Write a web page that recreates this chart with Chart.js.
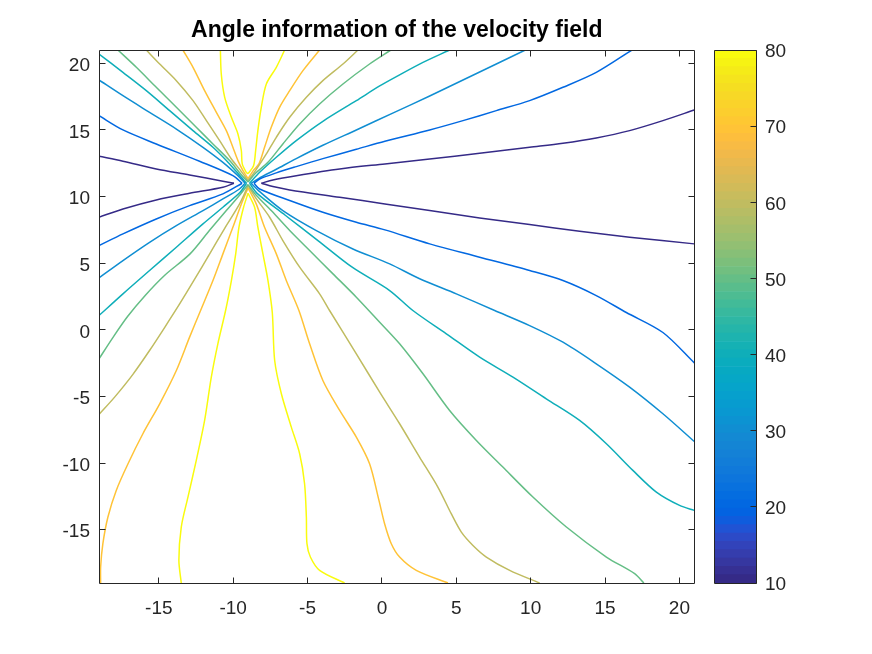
<!DOCTYPE html>
<html lang="en">
<head>
<meta charset="UTF-8">
<title>Angle information of the velocity field</title>
<script src="https://cdn.jsdelivr.net/npm/chart.js@4"></script>
<style>
  body { margin: 0; background: #fff; }
  .wrap { position: relative; width: 872px; height: 654px; }
  canvas { position: absolute; top: 0; }
  #field { left: 0; }
  #cbar { left: 700px; }
</style>
</head>
<body>
<div class="wrap">
  <canvas id="field" width="760" height="654"></canvas>
  <canvas id="cbar" width="172" height="654"></canvas>
</div>
<script>
// ---- data ----
const levels = [10, 20, 30, 40, 50, 60, 70, 80];
const xTicks = [-15, -10, -5, 0, 5, 10, 15, 20];
const yTicks = [-15, -10, -5, 0, 5, 10, 15, 20];
const cbTicks = [10, 20, 30, 40, 50, 60, 70, 80];
const xLimits = [-19, 21];
const yLimits = [-19, 21];
const cLimits = [10, 80];

// contour branches per level (same order as levels), from the plot edge in to the centre
const branchUL = [
  [[-19.02,13.02],[-17.41,12.65],[-15.17,12.07],[-12.93,11.62],[-10.69,11.15],[-9.95,11.0]],
  [[-19.02,16.07],[-17.41,15.0],[-15.17,13.95],[-12.26,12.65],[-10.02,11.57],[-9.4,11.0]],
  [[-19.02,18.75],[-17.41,17.57],[-15.62,16.32],[-13.82,15.07],[-12.03,13.7],[-10.69,12.57],[-9.68,11.57],[-9.2,11.0]],
  [[-19.02,20.7],[-17.41,19.32],[-15.84,17.95],[-14.27,16.45],[-12.7,14.95],[-11.36,13.7],[-10.24,12.45],[-9.5,11.5],[-9.1,11.0]],
  [[-17.75,21],[-16.51,19.7],[-15.17,18.2],[-13.82,16.7],[-12.48,15.2],[-11.36,13.95],[-10.24,12.7],[-9.5,11.7],[-9.0,11.1]],
  [[-15.84,21],[-14.94,19.95],[-13.82,18.7],[-12.7,17.2],[-11.8,15.7],[-10.91,14.2],[-10.12,12.82],[-9.5,11.95],[-9.0,11.2]],
  [[-13.38,21],[-12.7,19.7],[-11.92,17.95],[-11.13,16.32],[-10.46,14.95],[-10.02,13.7],[-9.68,12.7],[-9.34,11.95],[-9.0,11.35]],
  [[-10.86,21],[-10.8,19.2],[-10.57,17.45],[-10.12,15.95],[-9.68,14.7],[-9.45,13.45],[-9.39,12.45],[-9.12,11.82],[-9.0,11.72]]
];
const branchUR = [
  [[21,16.5],[18.89,15.7],[16.65,14.95],[14.41,14.4],[12.17,14.0],[9.93,13.7],[6.57,13.25],[3.21,12.82],[0.2,12.45],[-2.84,12.07],[-5.76,11.57],[-7.33,11.25],[-8.1,11.0]],
  [[16.81,21],[14.41,19.32],[12.17,18.2],[9.93,17.2],[7.69,16.45],[5.45,15.7],[3.21,15.0],[0.2,14.15],[-1.72,13.55],[-3.97,12.85],[-5.76,12.25],[-7.1,11.78],[-8.22,11.32],[-8.6,11.0]],
  [[9.64,21],[7.69,19.95],[5.45,18.75],[3.21,17.55],[0.8,16.3],[-1.72,15.0],[-3.97,13.85],[-5.76,12.85],[-7.1,12.05],[-8.3,11.35],[-8.8,11.0]],
  [[4.55,21],[2.76,20.07],[0.97,19.0],[-0.15,18.3],[-1.72,17.2],[-3.97,15.65],[-5.76,14.2],[-7.1,12.95],[-8.22,11.82],[-8.9,11.0]],
  [[0.6,21],[-0.83,19.95],[-2.62,18.45],[-4.19,16.95],[-5.53,15.45],[-6.66,13.95],[-7.66,12.57],[-8.5,11.75],[-9.0,11.1]],
  [[-1.61,21],[-2.62,19.95],[-3.97,18.7],[-5.08,17.45],[-6.2,15.95],[-7.1,14.45],[-7.77,13.2],[-8.5,11.95],[-9.0,11.2]],
  [[-4.19,21],[-5.31,19.45],[-6.2,17.95],[-6.88,16.7],[-7.44,15.2],[-7.89,13.7],[-8.27,12.45],[-8.65,11.95],[-9.0,11.35]],
  [[-6.54,21],[-7.1,19.7],[-7.77,18.45],[-8.11,16.7],[-8.34,14.95],[-8.49,13.45],[-8.63,12.32],[-9.0,11.72]]
];
const branchLL = [
  [[-19.02,8.45],[-17.41,9.07],[-15.17,9.75],[-12.93,10.25],[-10.69,10.7],[-9.95,11.0]],
  [[-19.02,6.32],[-17.41,7.2],[-15.17,8.32],[-12.93,9.32],[-10.69,10.2],[-9.4,11.0]],
  [[-19.02,3.9],[-17.41,5.2],[-15.62,6.57],[-13.82,7.82],[-12.03,8.95],[-10.69,9.82],[-9.6,10.55],[-9.2,11.0]],
  [[-19.02,1.07],[-17.41,2.7],[-15.62,4.45],[-13.82,6.2],[-12.03,7.95],[-10.69,9.2],[-9.55,10.3],[-9.1,11.0]],
  [[-19.02,-2.18],[-18.1,-0.6],[-17.1,1.0],[-15.9,2.6],[-14.6,4.1],[-12.9,5.7],[-11.6,7.45],[-10.46,8.95],[-9.5,10.2],[-9.0,10.9]],
  [[-19.02,-6.35],[-17.97,-5.05],[-16.74,-3.34],[-15.62,-1.55],[-14.61,0.17],[-13.6,1.94],[-12.59,3.8],[-11.58,5.7],[-10.58,7.6],[-9.57,9.45],[-9.0,10.8]],
  [[-18.91,-19],[-18.91,-17.8],[-18.76,-16.05],[-18.42,-14.05],[-17.86,-12.05],[-17.07,-10.05],[-16.07,-7.8],[-14.94,-5.55],[-13.82,-3.05],[-12.93,-0.55],[-12.19,1.45],[-11.36,3.7],[-10.69,5.7],[-10.02,7.7],[-9.45,9.45],[-9.0,10.65]],
  [[-13.49,-19],[-13.65,-17.3],[-13.49,-14.8],[-13.04,-12.55],[-12.48,-9.8],[-11.92,-6.8],[-11.47,-3.55],[-11.03,-1.05],[-10.51,1.45],[-10.12,3.7],[-9.83,5.7],[-9.61,7.7],[-9.3,9.2],[-9.0,10.25]]
];
const branchLR = [
  [[21,6.45],[16.65,6.95],[13.29,7.4],[9.93,7.9],[6.57,8.4],[3.21,8.95],[0.2,9.45],[-2.84,9.95],[-6.2,10.5],[-7.33,10.75],[-8.1,11.0]],
  [[21,-2.48],[18.89,-0.2],[16.43,1.3],[14.41,2.57],[12.17,3.7],[9.93,4.45],[6.57,5.45],[3.21,6.45],[0.2,7.5],[-1.72,8.07],[-3.97,8.82],[-6.2,9.7],[-8.22,10.57],[-8.6,11.0]],
  [[21,-8.38],[18.89,-6.3],[16.65,-4.3],[14.41,-2.55],[12.17,-0.93],[9.93,0.32],[7.58,1.45],[5.0,2.7],[2.5,3.85],[0.52,4.95],[-1.95,6.07],[-4.41,7.45],[-6.66,8.95],[-8.3,10.45],[-8.8,11.0]],
  [[21,-13.55],[20.01,-13.18],[18.45,-12.18],[16.87,-10.55],[15.09,-8.55],[13.29,-6.8],[11.05,-5.18],[8.81,-3.55],[6.57,-2.05],[4.33,-0.3],[2.08,1.45],[0.52,2.95],[-2.0,4.7],[-4.3,6.7],[-6.5,8.6],[-8.35,10.2],[-8.9,11.0]],
  [[17.61,-19],[16.99,-18.3],[15.09,-17.05],[12.4,-14.8],[10.15,-12.55],[8.13,-10.3],[6.35,-8.3],[4.55,-6.05],[2.76,-3.3],[1.19,-1.05],[-0.15,0.57],[-1.72,2.45],[-3.29,4.2],[-4.86,5.95],[-6.2,7.45],[-7.44,8.95],[-8.45,10.1],[-9.0,10.9]],
  [[10.6,-19],[8.59,-18.05],[7.02,-17.05],[6.12,-16.18],[5.34,-15.18],[4.66,-13.8],[3.76,-11.8],[2.53,-9.55],[1.19,-7.05],[-0.15,-4.68],[-1.72,-1.8],[-3.52,1.45],[-4.19,2.7],[-5.53,4.7],[-6.66,6.7],[-7.55,8.45],[-8.45,9.85],[-9.0,10.8]],
  [[4.44,-19],[2.31,-18.05],[1.19,-17.05],[0.63,-16.05],[0.18,-14.55],[-0.2,-12.8],[-0.83,-10.05],[-1.72,-8.05],[-2.84,-6.05],[-3.97,-3.8],[-4.86,-1.05],[-5.58,1.45],[-6.43,3.7],[-7.1,5.7],[-7.89,7.7],[-8.45,9.45],[-9.0,10.65]],
  [[-2.51,-19],[-4.19,-18.05],[-4.81,-17.05],[-5.04,-16.05],[-5.08,-14.05],[-5.2,-11.55],[-5.53,-9.3],[-6.09,-7.3],[-6.76,-4.8],[-7.21,-2.3],[-7.37,1.3],[-7.66,3.7],[-8.0,5.7],[-8.34,7.7],[-8.56,9.2],[-9.0,10.25]]
];

// ---- style ----
const parula = [
  [0.2081,0.1663,0.5292],[0.2116,0.1898,0.5777],[0.2123,0.2138,0.6270],[0.2081,0.2386,0.6771],
  [0.1959,0.2645,0.7279],[0.1707,0.2919,0.7792],[0.1253,0.3242,0.8303],[0.0591,0.3598,0.8683],
  [0.0117,0.3875,0.8820],[0.0060,0.4086,0.8828],[0.0165,0.4266,0.8786],[0.0329,0.4430,0.8720],
  [0.0498,0.4586,0.8641],[0.0629,0.4737,0.8554],[0.0723,0.4887,0.8467],[0.0779,0.5040,0.8384],
  [0.0793,0.5200,0.8312],[0.0749,0.5375,0.8263],[0.0641,0.5570,0.8240],[0.0488,0.5772,0.8228],
  [0.0343,0.5966,0.8199],[0.0265,0.6137,0.8135],[0.0239,0.6287,0.8038],[0.0231,0.6418,0.7913],
  [0.0228,0.6535,0.7768],[0.0267,0.6642,0.7607],[0.0384,0.6743,0.7436],[0.0590,0.6838,0.7254],
  [0.0843,0.6928,0.7062],[0.1133,0.7015,0.6859],[0.1453,0.7098,0.6646],[0.1801,0.7177,0.6424],
  [0.2178,0.7250,0.6193],[0.2586,0.7317,0.5954],[0.3022,0.7376,0.5712],[0.3482,0.7424,0.5473],
  [0.3953,0.7459,0.5244],[0.4420,0.7481,0.5033],[0.4871,0.7491,0.4840],[0.5300,0.7491,0.4661],
  [0.5709,0.7485,0.4494],[0.6099,0.7473,0.4337],[0.6473,0.7456,0.4188],[0.6834,0.7435,0.4044],
  [0.7184,0.7411,0.3905],[0.7525,0.7384,0.3768],[0.7858,0.7356,0.3633],[0.8185,0.7327,0.3498],
  [0.8507,0.7299,0.3360],[0.8824,0.7274,0.3217],[0.9139,0.7258,0.3063],[0.9450,0.7261,0.2886],
  [0.9739,0.7314,0.2666],[0.9938,0.7455,0.2403],[0.9990,0.7653,0.2164],[0.9955,0.7861,0.1967],
  [0.9880,0.8066,0.1794],[0.9789,0.8271,0.1633],[0.9697,0.8481,0.1475],[0.9626,0.8705,0.1309],
  [0.9589,0.8949,0.1132],[0.9598,0.9218,0.0948],[0.9661,0.9514,0.0755],[0.9763,0.9831,0.0538]
];
const axisColor = '#262626';
const tickFont = { size: 19 };

Chart.defaults.font.family = "'Liberation Sans', Arial, Helvetica, sans-serif";
Chart.defaults.color = axisColor;

function rgb(c) {
  return 'rgb(' + c.map(v => Math.round(v * 255)).join(',') + ')';
}
function levelColor(v) {
  const t = (v - cLimits[0]) / (cLimits[1] - cLimits[0]);
  const i = Math.min(parula.length - 1, Math.max(0, Math.floor(t * parula.length)));
  return rgb(parula[i]);
}

// box round the axes, ticks pointing inwards
const frame = {
  id: 'frame',
  afterDraw(chart, args, opts) {
    const { ctx, chartArea: a, scales } = chart;
    const snap = v => Math.round(v - 0.5) + 0.5;
    const L = snap(a.left), R = snap(a.right), T = snap(a.top), B = snap(a.bottom);
    ctx.save();
    ctx.strokeStyle = axisColor;
    ctx.lineWidth = 1;
    ctx.beginPath();
    ctx.rect(L, T, R - L, B - T);
    if (opts.xTicks) {
      scales.x.ticks.forEach(t => {
        const p = snap(scales.x.getPixelForValue(t.value));
        ctx.moveTo(p, B); ctx.lineTo(p, B - opts.len);
        ctx.moveTo(p, T); ctx.lineTo(p, T + opts.len);
      });
    }
    scales.y.ticks.forEach(t => {
      const p = snap(scales.y.getPixelForValue(t.value));
      if (opts.leftTicks) { ctx.moveTo(L, p); ctx.lineTo(L + opts.len, p); }
      ctx.moveTo(R, p); ctx.lineTo(R - opts.len, p);
    });
    ctx.stroke();
    ctx.restore();
  }
};

const datasets = [];
levels.forEach((lv, i) => {
  [branchUL, branchUR, branchLL, branchLR].forEach(quad => {
    datasets.push({
      label: String(lv),
      data: quad[i].map(([x, y]) => ({ x, y })),
      borderColor: levelColor(lv),
      borderWidth: 1.5,
      pointRadius: 0,
      showLine: true,
      tension: 0.3,
      fill: false
    });
  });
});

new Chart(document.getElementById('field'), {
  type: 'scatter',
  data: { datasets },
  plugins: [frame],
  options: {
    responsive: false,
    animation: false,
    devicePixelRatio: 1,
    events: [],
    layout: { padding: { left: 0, right: 760 - 694.3, top: 0, bottom: 0 } },
    plugins: {
      legend: { display: false },
      tooltip: { enabled: false },
      title: {
        display: true,
        text: 'Angle information of the velocity field',
        fullSize: false,
        color: '#000',
        font: { size: 23, weight: 'bold' },
        padding: { top: 16.5, bottom: 5.9 }
      },
      frame: { len: 6, xTicks: true, leftTicks: true }
    },
    scales: {
      x: {
        type: 'linear',
        min: xLimits[0], max: xLimits[1],
        afterBuildTicks: s => { s.ticks = xTicks.map(v => ({ value: v })); },
        afterFit: s => { s.height = 71; },
        grid: { display: false, drawTicks: false },
        border: { display: false },
        ticks: { font: tickFont, padding: 14, autoSkip: false, maxRotation: 0, callback: v => String(v) }
      },
      y: {
        type: 'linear',
        min: yLimits[0], max: yLimits[1],
        afterBuildTicks: s => { s.ticks = yTicks.map(v => ({ value: v })); },
        afterFit: s => { s.width = 99.3; },
        grid: { display: false, drawTicks: false },
        border: { display: false },
        ticks: { font: tickFont, padding: 9.3, labelOffset: 2.5, autoSkip: false, callback: v => String(v) }
      }
    }
  }
});

// colour bar: one floating bar per colormap step
const step = (cLimits[1] - cLimits[0]) / parula.length;
new Chart(document.getElementById('cbar'), {
  type: 'bar',
  data: {
    labels: [''],
    datasets: parula.map((c, i) => ({
      data: [[cLimits[0] + i * step, cLimits[0] + (i + 1) * step]],
      backgroundColor: rgb(c),
      borderWidth: 0,
      grouped: false,
      barPercentage: 1,
      categoryPercentage: 1
    }))
  },
  plugins: [frame],
  options: {
    responsive: false,
    animation: false,
    devicePixelRatio: 1,
    events: [],
    layout: { padding: { left: 14.3, right: 0, top: 50, bottom: 71 } },
    plugins: {
      legend: { display: false },
      tooltip: { enabled: false },
      frame: { len: 6, xTicks: false, leftTicks: false }
    },
    scales: {
      x: { display: false },
      y: {
        position: 'right',
        min: cLimits[0], max: cLimits[1],
        afterBuildTicks: s => { s.ticks = cbTicks.map(v => ({ value: v })); },
        afterFit: s => { s.width = 172 - 14.3 - 42.4; },
        grid: { display: false, drawTicks: false },
        border: { display: false },
        ticks: { font: tickFont, padding: 8.3, labelOffset: 2, autoSkip: false, callback: v => String(v) }
      }
    }
  }
});
</script>
</body>
</html>
